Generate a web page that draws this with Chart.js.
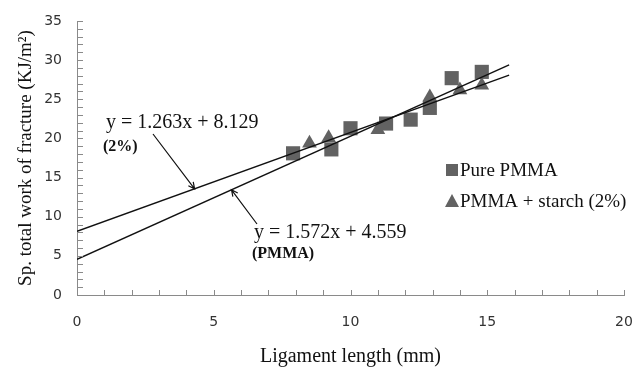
<!DOCTYPE html>
<html lang="en">
<head>
<meta charset="UTF-8">
<title>Sp. total work of fracture vs ligament length</title>
<script src="https://cdn.jsdelivr.net/npm/chart.js"></script>
<style>
  html, body { margin: 0; padding: 0; background: #fff; }
  #wrap { width: 634px; height: 370px; }
</style>
</head>
<body>
<div id="wrap"><canvas id="fractureChart"></canvas></div>
<script>
  // measured points
  const pmmaX = [7.9, 9.3, 10.0, 11.3, 12.2, 12.9, 13.7, 14.8];
  const pmmaY = [18.1, 18.6, 21.3, 21.9, 22.4, 23.9, 27.7, 28.5];
  const starchX = [8.5, 9.2, 11.0, 12.9, 14.0, 14.8];
  const starchY = [19.4, 20.1, 21.1, 25.3, 26.2, 26.8];

  // linear fits (end points of the drawn trend lines)
  const fitX = [0, 15.8];
  const fitPmmaY = [4.559, 29.40];
  const fitStarchY = [8.129, 28.08];

  const seriesNames = ['Pure PMMA', 'PMMA + starch (2%)'];
  const fitStarchText = ['y = 1.263x + 8.129', '(2%)'];
  const fitPmmaText = ['y = 1.572x + 4.559', '(PMMA)'];
  // x position of the arrow tips on each fit line
  const arrowTipX = [4.3, 5.65];

  const xTicks = [0, 5, 10, 15, 20];
  const yTicks = [0, 5, 10, 15, 20, 25, 30, 35];

  const toPts = (xs, ys) => xs.map((x, i) => ({ x: x, y: ys[i] }));
  const markerGray = '#626262';
  const axisGray = '#8a8a8a';
  const serif = "'Liberation Serif', 'Times New Roman', serif";

  // small ticks on the inside of both axes, every 1 unit
  const innerTicks = {
    id: 'innerTicks',
    afterDraw(chart) {
      const ctx = chart.ctx;
      const xs = chart.scales.x, ys = chart.scales.y;
      const area = chart.chartArea;
      ctx.save();
      ctx.strokeStyle = axisGray;
      ctx.lineWidth = 1;
      ctx.beginPath();
      for (let v = ys.min; v <= ys.max; v++) {
        const py = Math.round(ys.getPixelForValue(v)) + 0.5;
        ctx.moveTo(area.left, py);
        ctx.lineTo(area.left + 6, py);
      }
      for (let v = xs.min; v <= xs.max; v++) {
        const px = Math.round(xs.getPixelForValue(v)) + 0.5;
        ctx.moveTo(px, area.bottom);
        ctx.lineTo(px, area.bottom - 5);
      }
      ctx.stroke();
      ctx.restore();
    }
  };

  function arrow(ctx, x0, y0, x1, y1) {
    const a = Math.atan2(y1 - y0, x1 - x0);
    const h = 7;
    ctx.beginPath();
    ctx.moveTo(x0, y0);
    ctx.lineTo(x1, y1);
    ctx.moveTo(x1 - h * Math.cos(a - 0.45), y1 - h * Math.sin(a - 0.45));
    ctx.lineTo(x1, y1);
    ctx.lineTo(x1 - h * Math.cos(a + 0.45), y1 - h * Math.sin(a + 0.45));
    ctx.stroke();
  }

  // equation labels with arrows + in-plot legend
  const notes = {
    id: 'notes',
    afterDraw(chart) {
      const ctx = chart.ctx;
      const xs = chart.scales.x, ys = chart.scales.y;
      const lineY = (x, yA) => yA[0] + (yA[1] - yA[0]) * (x - fitX[0]) / (fitX[1] - fitX[0]);
      ctx.save();
      ctx.fillStyle = '#111';
      ctx.strokeStyle = '#111';
      ctx.lineWidth = 1.2;
      ctx.textBaseline = 'middle';
      ctx.textAlign = 'left';

      ctx.font = '20px ' + serif;
      ctx.fillText(fitStarchText[0], 106, 123);
      ctx.fillText(fitPmmaText[0], 254, 233);
      ctx.font = 'bold 16px ' + serif;
      ctx.fillText(fitStarchText[1], 103, 147);
      ctx.fillText(fitPmmaText[1], 252, 254);

      const t1x = xs.getPixelForValue(arrowTipX[0]);
      const t1y = ys.getPixelForValue(lineY(arrowTipX[0], fitStarchY));
      arrow(ctx, 153, 134, t1x, t1y);
      const t2x = xs.getPixelForValue(arrowTipX[1]);
      const t2y = ys.getPixelForValue(lineY(arrowTipX[1], fitPmmaY));
      arrow(ctx, 257, 224, t2x, t2y);

      // legend
      ctx.fillStyle = markerGray;
      ctx.fillRect(446, 164, 12, 12);
      ctx.beginPath();
      ctx.moveTo(452, 194);
      ctx.lineTo(459, 207);
      ctx.lineTo(445, 207);
      ctx.closePath();
      ctx.fill();
      ctx.fillStyle = '#111';
      ctx.font = '19px ' + serif;
      ctx.fillText(seriesNames[0], 460, 171);
      ctx.fillText(seriesNames[1], 460, 202);
      ctx.restore();
    }
  };

  const ctx = document.getElementById('fractureChart').getContext('2d');
  new Chart(ctx, {
    type: 'scatter',
    data: {
      datasets: [
        {
          type: 'line',
          label: 'fit 2%',
          data: toPts(fitX, fitStarchY),
          borderColor: '#111',
          borderWidth: 1.4,
          pointRadius: 0,
          order: 0
        },
        {
          type: 'line',
          label: 'fit PMMA',
          data: toPts(fitX, fitPmmaY),
          borderColor: '#111',
          borderWidth: 1.4,
          pointRadius: 0,
          order: 0
        },
        {
          label: seriesNames[0],
          data: toPts(pmmaX, pmmaY),
          pointStyle: 'rect',
          pointRadius: 10,
          pointBorderWidth: 0,
          backgroundColor: markerGray,
          borderColor: markerGray,
          order: 1
        },
        {
          label: seriesNames[1],
          data: toPts(starchX, starchY),
          pointStyle: 'triangle',
          pointRadius: 8.5,
          pointBorderWidth: 0,
          backgroundColor: markerGray,
          borderColor: markerGray,
          order: 1
        }
      ]
    },
    options: {
      responsive: true,
      maintainAspectRatio: false,
      animation: false,
      layout: { padding: { top: 21, right: 8, bottom: 0, left: 0 } },
      plugins: {
        legend: { display: false },
        tooltip: { enabled: false }
      },
      scales: {
        x: {
          type: 'linear',
          min: 0,
          max: 20,
          afterBuildTicks: s => { s.ticks = xTicks.map(v => ({ value: v })); },
          afterFit: s => { s.height = 75; s.paddingLeft = 0; s.paddingRight = 0; },
          grid: { display: false, drawTicks: false },
          border: { display: true, color: axisGray, width: 1 },
          ticks: {
            padding: 19,
            color: '#333',
            font: { family: "'DejaVu Sans', sans-serif", size: 14 }
          },
          title: {
            display: true,
            text: 'Ligament length (mm)',
            color: '#111',
            font: { family: serif, size: 20 },
            padding: { top: 0, bottom: 1 }
          }
        },
        y: {
          type: 'linear',
          min: 0,
          max: 35,
          afterBuildTicks: s => { s.ticks = yTicks.map(v => ({ value: v })); },
          afterFit: s => { s.width = 77; s.paddingTop = 0; s.paddingBottom = 0; },
          grid: { display: false, drawTicks: false },
          border: { display: true, color: axisGray, width: 1 },
          ticks: {
            padding: 15,
            color: '#333',
            font: { family: "'DejaVu Sans', sans-serif", size: 14 }
          },
          title: {
            display: true,
            text: 'Sp. total work of fracture (KJ/m²)',
            color: '#111',
            font: { family: serif, size: 19 },
            padding: { top: 15, bottom: 0 }
          }
        }
      }
    },
    plugins: [innerTicks, notes]
  });
</script>
</body>
</html>
